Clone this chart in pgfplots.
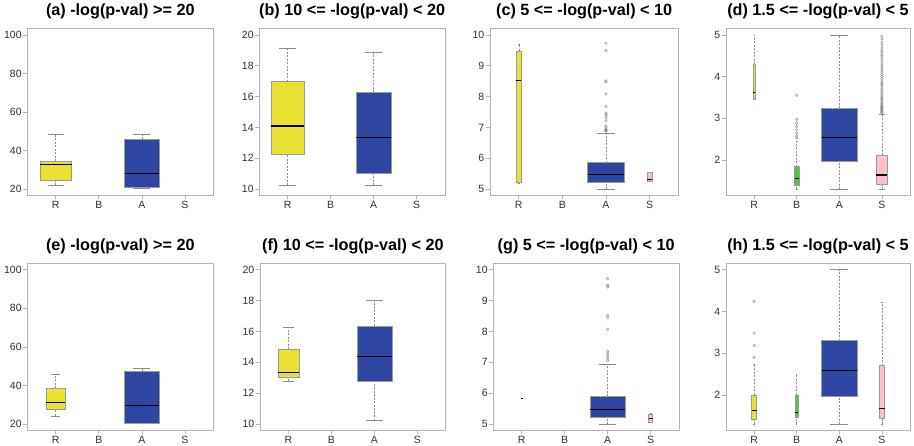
\documentclass[border=0pt]{standalone}
\usepackage{fontspec}
\setmainfont{Liberation Sans}
\usepackage{pgfplots}
\pgfplotsset{compat=1.18}
\usepgfplotslibrary{statistics}

\definecolor{ryellow}{HTML}{EAE232}
\definecolor{rblue}{HTML}{2E45A1}
\definecolor{rgreen}{HTML}{52C440}
\definecolor{rpink}{HTML}{FFC0CB}
\definecolor{axgray}{HTML}{B4B4B4}
\definecolor{boxgray}{HTML}{9A9A9A}
\definecolor{whgray}{HTML}{8C8C8C}
\definecolor{labgray}{HTML}{303030}

\pgfplotsset{
  rpanel/.style={
    scale only axis, anchor=south west,
    xmin=0.34, xmax=4.66,
    xtick={1,2,3,4}, xticklabels={R,B,A,S},
    axis line style={draw=axgray, line width=0.9pt},
    tick style={draw=axgray, line width=0.6pt},
    tick align=outside, ytick pos=left, xtick pos=bottom,
    major tick length=4pt,
    ticklabel style={font=\fontsize{10.5}{12}\selectfont, text=labgray},
    yticklabel style={inner sep=1.5pt},
    xticklabel style={inner sep=1.5pt},
    /pgf/number format/assume math mode=true,
    title style={font=\fontsize{16.2}{18}\selectfont\bfseries, anchor=base, at={(0.5,1)}, yshift=7pt},
    boxplot/draw direction=y,
    boxplot/whisker extend=\pgfkeysvalueof{/pgfplots/boxplot/box extend}*0.5,
    boxplot/draw/lower whisker/.code={
      \draw[whgray, dash pattern=on 2pt off 1.5pt, line width=0.5pt]
        (boxplot cs:\pgfplotsboxplotvalue{lower whisker}) -- (boxplot cs:\pgfplotsboxplotvalue{lower quartile});
      \draw[whgray, line width=0.6pt]
        (boxplot whisker cs:\pgfplotsboxplotvalue{lower whisker},0) -- (boxplot whisker cs:\pgfplotsboxplotvalue{lower whisker},1);
    },
    boxplot/draw/upper whisker/.code={
      \draw[whgray, dash pattern=on 2pt off 1.5pt, line width=0.5pt]
        (boxplot cs:\pgfplotsboxplotvalue{upper quartile}) -- (boxplot cs:\pgfplotsboxplotvalue{upper whisker});
      \draw[whgray, line width=0.6pt]
        (boxplot whisker cs:\pgfplotsboxplotvalue{upper whisker},0) -- (boxplot whisker cs:\pgfplotsboxplotvalue{upper whisker},1);
    },
    boxplot/every median/.style={black, line width=1.1pt},
  },
  yb/.style={draw=boxgray, mark=o, mark size=1.3pt, mark options={draw=whgray, line width=0.4pt}, boxplot/every box/.style={fill=ryellow, draw=boxgray}},
  bb/.style={draw=boxgray, mark=o, mark size=1.3pt, mark options={draw=whgray, line width=0.4pt}, boxplot/every box/.style={fill=rblue, draw=boxgray}},
  gb/.style={draw=boxgray, mark=o, mark size=1.3pt, mark options={draw=whgray, line width=0.4pt}, boxplot/every box/.style={fill=rgreen, draw=boxgray}},
  pb/.style={draw=boxgray, mark=o, mark size=1.3pt, mark options={draw=whgray, line width=0.4pt}, boxplot/every box/.style={fill=rpink, draw=boxgray}},
}

\begin{document}
\begin{tikzpicture}
\useasboundingbox (0pt,0pt) rectangle (914pt,445pt);
\clip (0pt,0pt) rectangle (914pt,445pt);

% ---------------- top row ----------------
\begin{axis}[rpanel, at={(27.3pt,249.7pt)}, width=186pt, height=166.6pt,
  ymin=16.8, ymax=103.2, ytick={20,40,60,80,100},
  title={(a) -log(p-val) >= 20}]
\addplot[yb, boxplot prepared={lower whisker=22.1, lower quartile=24.6, median=32.6, upper quartile=34.4, upper whisker=48.2, draw position=1, box extend=0.735}] coordinates {};
\addplot[bb, boxplot prepared={lower whisker=20.5, lower quartile=20.9, median=28.3, upper quartile=45.8, upper whisker=48.2, draw position=3, box extend=0.80}] coordinates {};
\end{axis}

\begin{axis}[rpanel, at={(259.3pt,249.7pt)}, width=185.7pt, height=166.6pt,
  ymin=9.6, ymax=20.4, ytick={10,12,14,16,18,20},
  title={(b) 10 <= -log(p-val) < 20}]
\addplot[yb, boxplot prepared={lower whisker=10.24, lower quartile=12.26, median=14.09, upper quartile=16.97, upper whisker=19.16, draw position=1, box extend=0.765}] coordinates {};
\addplot[bb, boxplot prepared={lower whisker=10.24, lower quartile=11.01, median=13.35, upper quartile=16.28, upper whisker=18.88, draw position=3, box extend=0.81}] coordinates {};
\end{axis}

\begin{axis}[rpanel, at={(490pt,249.7pt)}, width=188.3pt, height=166.6pt,
  ymin=4.8, ymax=10.2, ytick={5,6,7,8,9,10},
  title={(c) 5 <= -log(p-val) < 10}]
\addplot[yb, boxplot prepared={lower whisker=5.18, lower quartile=5.21, median=8.51, upper quartile=9.48, upper whisker=9.70, draw position=1, box extend=0.11}] coordinates {};
\addplot[bb, boxplot prepared={lower whisker=5.0, lower quartile=5.21, median=5.46, upper quartile=5.86, upper whisker=6.81, draw position=3, box extend=0.84}]
  table[row sep=\\, y index=0] {y\\ 9.73\\ 9.49\\ 8.51\\ 8.47\\ 8.08\\ 7.68\\ 7.46\\ 7.41\\ 7.33\\ 7.22\\ 7.05\\ 6.99\\ 6.94\\ 6.92\\ 6.90\\ 6.87\\};
\addplot[pb, boxplot prepared={lower whisker=5.26, lower quartile=5.27, median=5.30, upper quartile=5.55, upper whisker=5.56, draw position=4, box extend=0.10}] coordinates {};
\end{axis}

\begin{axis}[rpanel, at={(726pt,249.7pt)}, width=184pt, height=166.6pt,
  ymin=1.152, ymax=5.148, ytick={2,3,4,5},
  title={(d) 1.5 <= -log(p-val) < 5}]
\addplot[yb, boxplot prepared={lower whisker=3.45, lower quartile=3.46, median=3.62, upper quartile=4.30, upper whisker=5.0, draw position=1, box extend=0.05}] coordinates {};
\addplot[gb, boxplot prepared={lower whisker=1.30, lower quartile=1.40, median=1.56, upper quartile=1.84, upper whisker=2.45, draw position=2, box extend=0.10}]
  table[row sep=\\, y index=0] {y\\ 3.55\\ 2.97\\ 2.88\\ 2.80\\ 2.72\\ 2.64\\ 2.57\\ 2.52\\};
\addplot[bb, boxplot prepared={lower whisker=1.30, lower quartile=1.96, median=2.54, upper quartile=3.24, upper whisker=5.0, draw position=3, box extend=0.83}] coordinates {};
\addplot[pb, boxplot prepared={lower whisker=1.30, lower quartile=1.42, median=1.64, upper quartile=2.11, upper whisker=3.10, draw position=4, box extend=0.26}]
  table[row sep=\\, y index=0] {y\\ 3.12\\ 3.14\\ 3.16\\ 3.18\\ 3.20\\ 3.22\\ 3.24\\ 3.26\\ 3.28\\ 3.30\\ 3.33\\ 3.36\\ 3.40\\ 3.44\\ 3.48\\ 3.50\\ 3.55\\ 3.60\\ 3.63\\ 3.68\\ 3.72\\ 3.78\\ 3.82\\ 3.85\\ 3.90\\ 3.95\\ 4.00\\ 4.05\\ 4.10\\ 4.15\\ 4.20\\ 4.25\\ 4.30\\ 4.36\\ 4.42\\ 4.48\\ 4.52\\ 4.58\\ 4.62\\ 4.68\\ 4.75\\ 4.82\\ 4.90\\ 4.97\\};
\end{axis}

% ---------------- bottom row ----------------
\begin{axis}[rpanel, at={(27.3pt,14.7pt)}, width=186pt, height=166.8pt,
  ymin=16.8, ymax=103.2, ytick={20,40,60,80,100},
  title={(e) -log(p-val) >= 20}]
\addplot[yb, boxplot prepared={lower whisker=24.3, lower quartile=27.8, median=31.1, upper quartile=38.7, upper whisker=46.0, draw position=1, box extend=0.43}] coordinates {};
\addplot[bb, boxplot prepared={lower whisker=20.4, lower quartile=20.5, median=29.5, upper quartile=47.4, upper whisker=48.75, draw position=3, box extend=0.80}] coordinates {};
\end{axis}

\begin{axis}[rpanel, at={(260pt,14.7pt)}, width=185.7pt, height=166.8pt,
  ymin=9.6, ymax=20.4, ytick={10,12,14,16,18,20},
  title={(f) 10 <= -log(p-val) < 20}]
\addplot[yb, boxplot prepared={lower whisker=12.79, lower quartile=13.07, median=13.33, upper quartile=14.85, upper whisker=16.30, draw position=1, box extend=0.49}] coordinates {};
\addplot[bb, boxplot prepared={lower whisker=10.22, lower quartile=12.79, median=14.35, upper quartile=16.36, upper whisker=17.99, draw position=3, box extend=0.81}] coordinates {};
\end{axis}

\begin{axis}[rpanel, at={(493.3pt,14.7pt)}, width=185.7pt, height=166.8pt,
  ymin=4.8, ymax=10.2, ytick={5,6,7,8,9,10},
  title={(g) 5 <= -log(p-val) < 10}]
\addplot[yb, boxplot prepared={lower whisker=5.83, lower quartile=5.83, median=5.83, upper quartile=5.83, upper whisker=5.83, draw position=1, box extend=0.05}] coordinates {};
\addplot[bb, boxplot prepared={lower whisker=5.0, lower quartile=5.22, median=5.48, upper quartile=5.91, upper whisker=6.95, draw position=3, box extend=0.81}]
  table[row sep=\\, y index=0] {y\\ 9.71\\ 9.49\\ 9.44\\ 8.52\\ 8.45\\ 8.07\\ 7.35\\ 7.27\\ 7.21\\ 7.13\\ 7.06\\};
\addplot[pb, boxplot prepared={lower whisker=5.05, lower quartile=5.07, median=5.18, upper quartile=5.31, upper whisker=5.35, draw position=4, box extend=0.09}] coordinates {};
\end{axis}

\begin{axis}[rpanel, at={(726pt,14.7pt)}, width=184pt, height=166.8pt,
  ymin=1.152, ymax=5.148, ytick={2,3,4,5},
  title={(h) 1.5 <= -log(p-val) < 5}]
\addplot[yb, boxplot prepared={lower whisker=1.30, lower quartile=1.42, median=1.62, upper quartile=2.0, upper whisker=2.74, draw position=1, box extend=0.12}]
  table[row sep=\\, y index=0] {y\\ 4.24\\ 3.48\\ 3.18\\ 2.90\\};
\addplot[gb, boxplot prepared={lower whisker=1.30, lower quartile=1.46, median=1.58, upper quartile=2.0, upper whisker=2.50, draw position=2, box extend=0.06}] coordinates {};
\addplot[bb, boxplot prepared={lower whisker=1.30, lower quartile=1.98, median=2.58, upper quartile=3.30, upper whisker=5.0, draw position=3, box extend=0.83}] coordinates {};
\addplot[pb, boxplot prepared={lower whisker=1.30, lower quartile=1.44, median=1.68, upper quartile=2.70, upper whisker=4.22, draw position=4, box extend=0.13}] coordinates {};
\end{axis}
\end{tikzpicture}
\end{document}
